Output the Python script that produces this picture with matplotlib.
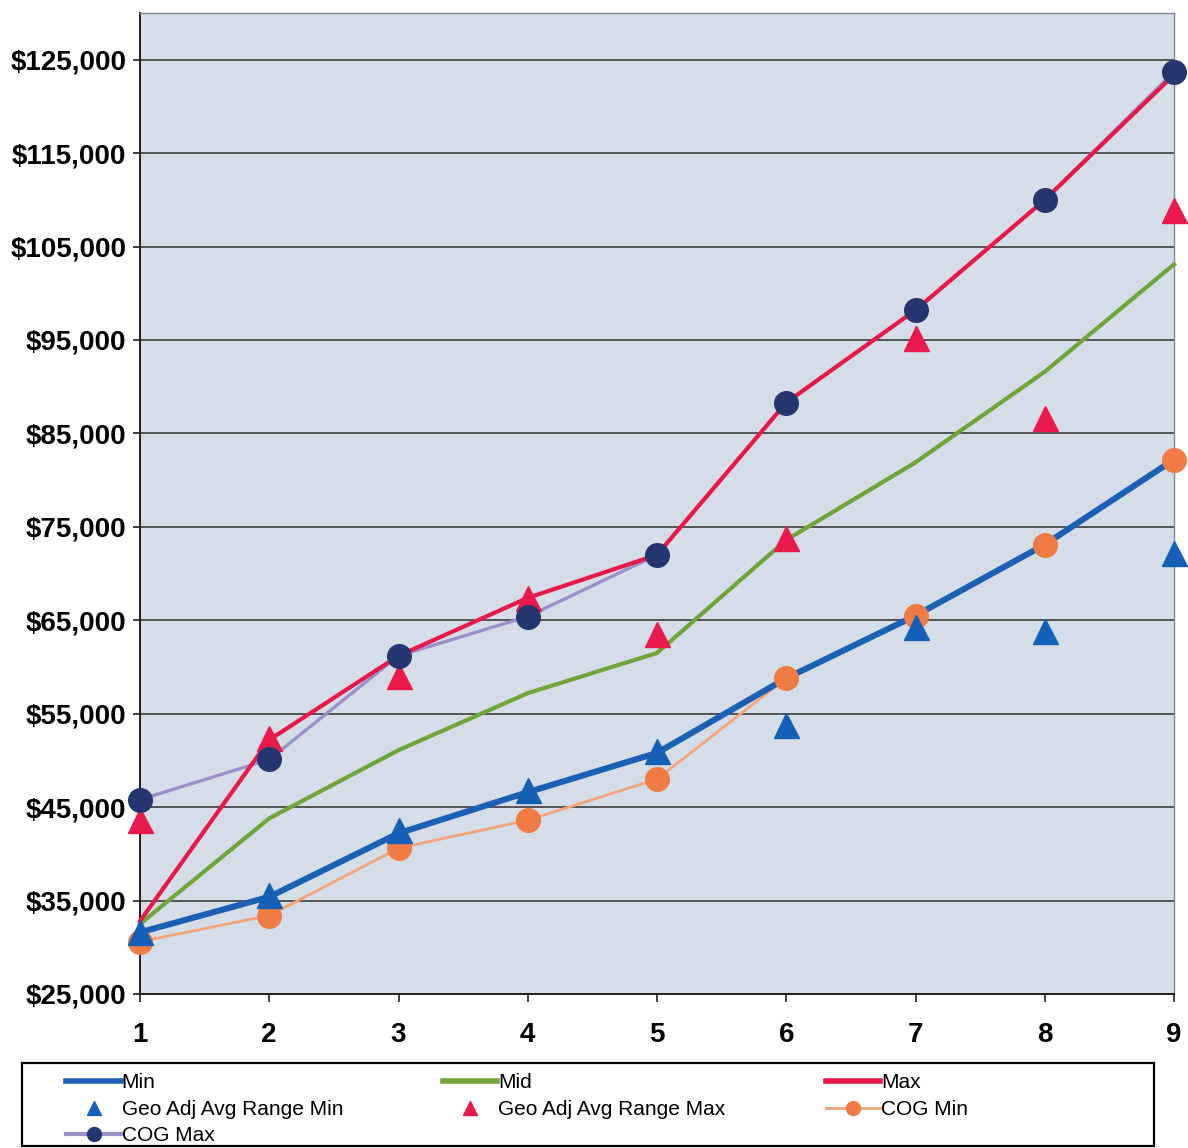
import matplotlib
matplotlib.use("Agg")
import matplotlib.pyplot as plt
from matplotlib.lines import Line2D
from matplotlib.patches import Rectangle
from matplotlib.ticker import FuncFormatter, FixedLocator

# Salary grades and pay-range figures
grades = [1, 2, 3, 4, 5, 6, 7, 8, 9]
range_min = [31600, 35400, 42200, 46600, 50800, 58800, 65500, 73100, 82200]
range_mid = [32500, 43800, 51100, 57200, 61500, 73600, 81900, 91600, 103100]
range_max = [32800, 52200, 61200, 67400, 72000, 88300, 98200, 110000, 123400]
geo_min = [31600, 35600, 42600, 46800, 51000, 53800, 64300, 63800, 72200]
geo_max = [43600, 52400, 59000, 67400, 63500, 73800, 95200, 86600, 108900]
cog_min = [30600, 33400, 40600, 43600, 48000, 58800, 65500, 73100, 82200]
cog_max = [45800, 50100, 61200, 65400, 72000, 88300, 98200, 110000, 123700]
y_ticks = list(range(25000, 125001, 10000))

labels = ["Min", "Mid", "Max", "Geo Adj Avg Range Min",
          "Geo Adj Avg Range Max", "COG Min", "COG Max"]

c_min = "#1c5fb3"
c_mid = "#72a43c"
c_max = "#e8184b"
c_geo_min = "#1560b6"
c_geo_max = "#ea1a4c"
c_cogmin_line = "#f2a57a"
c_cogmin_mark = "#f07c45"
c_cogmax_line = "#9b90c9"
c_cogmax_mark = "#25356f"

plt.rcParams["font.family"] = ["Liberation Sans", "DejaVu Sans"]

W, H = 1188, 1148
fig = plt.figure(figsize=(W / 100, H / 100), dpi=100)
fig.patch.set_facecolor("white")

ax = fig.add_axes([140 / W, 1 - 994 / H, (1174 - 140) / W, (994 - 13) / H])
ax.set_facecolor("#d5dee8")
ax.set_xlim(1, 9)
ax.set_ylim(25000, 130000)

ax.yaxis.set_major_locator(FixedLocator(y_ticks))
ax.xaxis.set_major_locator(FixedLocator(grades))
ax.yaxis.set_major_formatter(FuncFormatter(lambda v, p: "${:,.0f}".format(v)))
ax.xaxis.set_major_formatter(FuncFormatter(lambda v, p: "{:d}".format(int(v))))
ax.grid(axis="y", color="#3c3c3c", linewidth=1.2, zorder=0)
ax.set_axisbelow(True)

for side in ("left", "bottom"):
    ax.spines[side].set_color("#202020")
    ax.spines[side].set_linewidth(1.4)
for side in ("top", "right"):
    ax.spines[side].set_color("#7a8796")
    ax.spines[side].set_linewidth(1.0)

ax.tick_params(axis="y", direction="out", length=5, width=1.2, pad=5,
               labelsize=20, colors="#202020")
ax.tick_params(axis="x", direction="out", length=6, width=1.2, pad=14,
               labelsize=20, colors="#202020")
for t in ax.get_xticklabels() + ax.get_yticklabels():
    t.set_fontweight("bold")
    t.set_color("black")

ms = 17
# lines
ax.plot(grades, cog_max, color=c_cogmax_line, lw=2.4, zorder=2, clip_on=False)
ax.plot(grades, cog_min, color=c_cogmin_line, lw=2.0, zorder=2, clip_on=False)
ax.plot(grades, range_min, color=c_min, lw=4.4, zorder=3, clip_on=False)
ax.plot(grades, range_mid, color=c_mid, lw=3.0, zorder=3, clip_on=False)
ax.plot(grades, range_max, color=c_max, lw=3.0, zorder=4, clip_on=False)
# markers
ax.plot(grades, cog_min, ls="none", marker="o", ms=ms, color=c_cogmin_mark,
        mec=c_cogmin_mark, zorder=5, clip_on=False)
ax.plot(grades, geo_min, ls="none", marker="^", ms=ms + 1, color=c_geo_min,
        mec=c_geo_min, zorder=6, clip_on=False)
ax.plot(grades, geo_max, ls="none", marker="^", ms=ms + 1, color=c_geo_max,
        mec=c_geo_max, zorder=6, clip_on=False)
ax.plot(grades, cog_max, ls="none", marker="o", ms=ms, color=c_cogmax_mark,
        mec=c_cogmax_mark, zorder=7, clip_on=False)

# legend
handles = [
    Line2D([], [], color=c_min, lw=4),
    Line2D([], [], color=c_mid, lw=4),
    Line2D([], [], color=c_max, lw=4),
    Line2D([], [], ls="none", marker="^", ms=10, color=c_geo_min),
    Line2D([], [], ls="none", marker="^", ms=10, color=c_geo_max),
    Line2D([], [], color=c_cogmin_line, lw=2, marker="o", ms=10,
           mfc=c_cogmin_mark, mec=c_cogmin_mark),
    Line2D([], [], color=c_cogmax_line, lw=3, marker="o", ms=10,
           mfc=c_cogmax_mark, mec=c_cogmax_mark),
]
# column-major ordering so rows read Min/Mid/Max, Geo Min/Geo Max/COG Min, COG Max
order = [0, 3, 6, 1, 4, 2, 5]
fig.legend([handles[i] for i in order], [labels[i] for i in order],
           ncol=3, loc="upper left", bbox_to_anchor=(56 / W, 1 - 1063 / H),
           frameon=False, borderpad=0, fontsize=15, handlelength=2.6,
           handletextpad=0.05, columnspacing=4.8, labelspacing=0.36)
fig.patches.append(Rectangle((22 / W, 1 - 1146 / H), (1154 - 22) / W,
                             (1146 - 1063) / H, transform=fig.transFigure,
                             fill=False, edgecolor="black", lw=1.6))

fig.savefig("out.png", dpi=100, facecolor="white")
